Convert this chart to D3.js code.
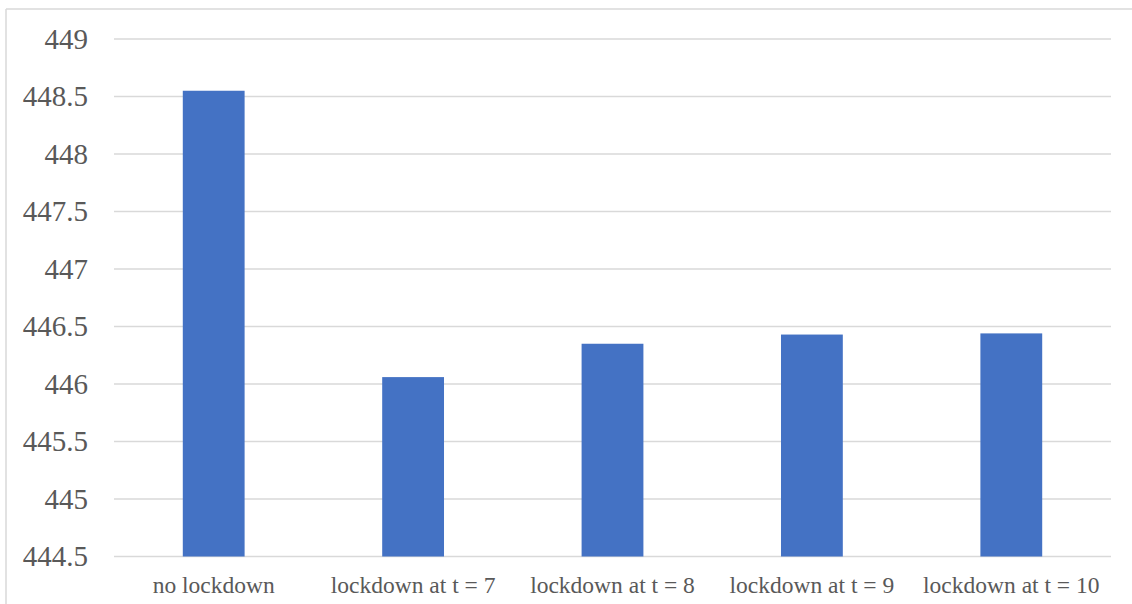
<!DOCTYPE html>
<html>
<head>
<meta charset="utf-8">
<script src="https://cdn.jsdelivr.net/npm/d3@7"></script>
<style>
  html, body { margin: 0; padding: 0; background: #fff; }
  svg { display: block; }
  svg text { font-family: "Liberation Serif", "Times New Roman", Times, serif; }
</style>
</head>
<body>
<svg id="chart" width="1132" height="604"></svg>
<script>
const categories = ["no lockdown", "lockdown at t = 7", "lockdown at t = 8", "lockdown at t = 9", "lockdown at t = 10"];
const values = [448.55, 446.06, 446.35, 446.43, 446.44];
const yTicks = [444.5, 445, 445.5, 446, 446.5, 447, 447.5, 448, 448.5, 449];

const svg = d3.select("#chart");
const W = 1132, H = 604;
const plot = { left: 114, right: 1111, top: 39, bottom: 556.5 };

// outer frame (top and left edges visible)
svg.append("line").attr("x1", 6).attr("x2", W).attr("y1", 9).attr("y2", 9)
  .attr("stroke", "#d9d9d9").attr("stroke-width", 1.5);
svg.append("line").attr("x1", 6).attr("x2", 6).attr("y1", 9).attr("y2", H)
  .attr("stroke", "#d9d9d9").attr("stroke-width", 1.5);

const y = d3.scaleLinear().domain([444.5, 449]).range([plot.bottom, plot.top]);
const x = d3.scaleBand().domain(categories).range([plot.left, plot.right])
  .paddingInner(0.69).paddingOuter(0.345);

// gridlines
svg.append("g").selectAll("line").data(yTicks).join("line")
  .attr("x1", plot.left).attr("x2", plot.right)
  .attr("y1", d => y(d)).attr("y2", d => y(d))
  .attr("stroke", "#d9d9d9").attr("stroke-width", 1.5);

// y tick labels
svg.append("g").selectAll("text").data(yTicks).join("text")
  .attr("x", 88).attr("y", d => y(d))
  .attr("dy", "0.33em")
  .attr("text-anchor", "end")
  .attr("font-size", 29)
  .attr("fill", "#595959")
  .text(d => String(d));

// bars
svg.append("g").selectAll("rect").data(values).join("rect")
  .attr("x", (d, i) => x(categories[i]))
  .attr("width", x.bandwidth())
  .attr("y", d => y(d))
  .attr("height", d => y(444.5) - y(d))
  .attr("fill", "#4472c4");

// category labels
svg.append("g").selectAll("text").data(categories).join("text")
  .attr("x", d => x(d) + x.bandwidth() / 2)
  .attr("y", 593)
  .attr("text-anchor", "middle")
  .attr("font-size", 23.5)
  .attr("fill", "#595959")
  .text(d => d);
</script>
</body>
</html>
